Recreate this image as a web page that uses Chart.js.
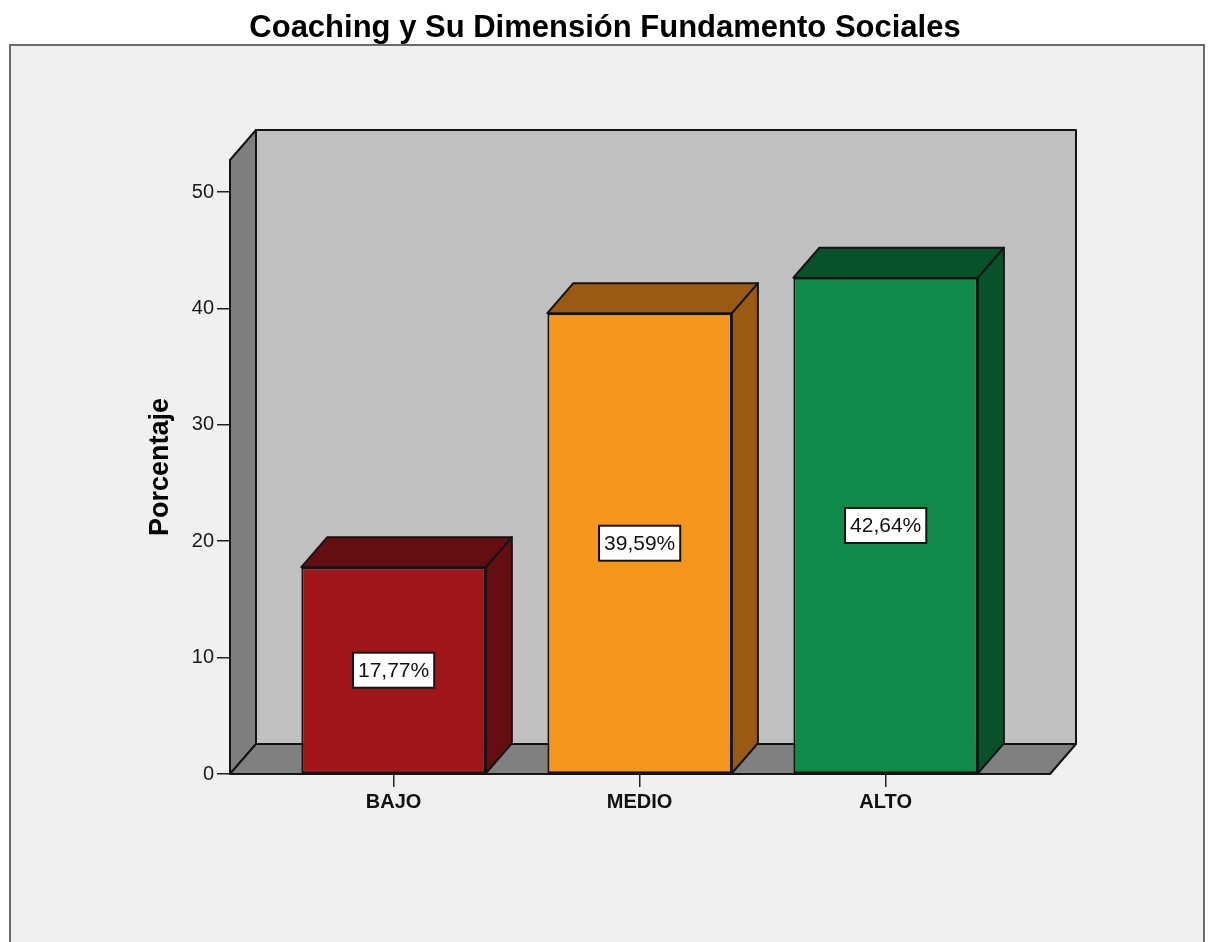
<!DOCTYPE html>
<html>
<head>
<meta charset="utf-8">
<script src="https://cdn.jsdelivr.net/npm/chart.js@4.4.1/dist/chart.umd.min.js"></script>
<style>
  body { margin: 0; background: #fff; }
  canvas { display: block; }
</style>
</head>
<body>
<canvas id="grafico" width="1210" height="942"></canvas>
<script>
const categorias = ['BAJO', 'MEDIO', 'ALTO'];
const porcentajes = [17.77, 39.59, 42.64];
const ticksY = [0, 10, 20, 30, 40, 50];
const coloresFrente = ['#a1161a', '#f7961d', '#0f8a48'];
const coloresSombra = ['#650e12', '#9a5a13', '#07522a'];

// profundidad de la caja 3D (px)
const prof = { dx: 26, dy: 30 };
const fuente = "'Liberation Sans', Arial, sans-serif";

function poligono(ctx, pts, relleno) {
  ctx.beginPath();
  ctx.moveTo(pts[0][0], pts[0][1]);
  for (let i = 1; i < pts.length; i++) ctx.lineTo(pts[i][0], pts[i][1]);
  ctx.closePath();
  ctx.fillStyle = relleno;
  ctx.fill();
  ctx.lineWidth = 2;
  ctx.strokeStyle = '#141414';
  ctx.lineJoin = 'round';
  ctx.stroke();
}

const caja3d = {
  id: 'caja3d',
  beforeDraw(chart) {
    const ctx = chart.ctx;
    ctx.save();
    ctx.fillStyle = '#fff';
    ctx.fillRect(0, 0, chart.width, chart.height);
    ctx.fillStyle = '#f0f0f0';
    ctx.fillRect(10, 45, 1194, 920);
    ctx.strokeStyle = '#6b6b6b';
    ctx.lineWidth = 2;
    ctx.strokeRect(10, 45, 1194, 920);
    ctx.restore();
  },
  beforeDatasetsDraw(chart) {
    const { ctx, chartArea: a } = chart;
    const { dx, dy } = prof;
    ctx.save();
    // pared del fondo, pared lateral y piso
    poligono(ctx, [[a.left + dx, a.top - dy], [a.right + dx, a.top - dy], [a.right + dx, a.bottom - dy], [a.left + dx, a.bottom - dy]], '#c0c0c0');
    poligono(ctx, [[a.left, a.top], [a.left + dx, a.top - dy], [a.left + dx, a.bottom - dy], [a.left, a.bottom]], '#7f7f7f');
    poligono(ctx, [[a.left, a.bottom], [a.right, a.bottom], [a.right + dx, a.bottom - dy], [a.left + dx, a.bottom - dy]], '#808080');
    // caras lateral y superior de cada barra
    chart.getDatasetMeta(0).data.forEach((barra, i) => {
      const { x, y, base, width } = barra.getProps(['x', 'y', 'base', 'width'], true);
      const l = x - width / 2, r = x + width / 2;
      poligono(ctx, [[r, y], [r + dx, y - dy], [r + dx, base - dy], [r, base]], coloresSombra[i]);
      poligono(ctx, [[l, y], [l + dx, y - dy], [r + dx, y - dy], [r, y]], coloresSombra[i]);
    });
    ctx.restore();
  },
  afterDatasetsDraw(chart) {
    const ctx = chart.ctx;
    ctx.save();
    ctx.font = '21px ' + fuente;
    ctx.textAlign = 'center';
    ctx.textBaseline = 'middle';
    chart.getDatasetMeta(0).data.forEach((barra, i) => {
      const { x, y, base } = barra.getProps(['x', 'y', 'base'], true);
      const texto = porcentajes[i].toFixed(2).replace('.', ',') + '%';
      const w = ctx.measureText(texto).width + 10;
      const h = 35;
      const cy = (y + base) / 2;
      ctx.fillStyle = '#fff';
      ctx.fillRect(x - w / 2, cy - h / 2, w, h);
      ctx.lineWidth = 2;
      ctx.strokeStyle = '#141414';
      ctx.strokeRect(x - w / 2, cy - h / 2, w, h);
      ctx.fillStyle = '#111';
      ctx.fillText(texto, x, cy + 1);
    });
    ctx.restore();
  }
};

Chart.defaults.color = '#111';
Chart.defaults.font.family = fuente;

new Chart(document.getElementById('grafico').getContext('2d'), {
  type: 'bar',
  data: {
    datasets: [{
      data: categorias.map((c, i) => ({ x: i, y: porcentajes[i] })),
      backgroundColor: coloresFrente,
      borderColor: '#141414',
      borderWidth: 2,
      borderSkipped: false,
      barPercentage: 0.75,
      categoryPercentage: 1
    }]
  },
  options: {
    responsive: false,
    animation: false,
    layout: { padding: 0 },
    plugins: {
      legend: { display: false },
      tooltip: { enabled: false },
      title: {
        display: true,
        text: 'Coaching y Su Dimensión Fundamento Sociales',
        color: '#000',
        font: { size: 31, weight: 'bold' },
        padding: { top: 10, bottom: 112.8 }
      }
    },
    scales: {
      x: {
        type: 'linear',
        offset: false,
        min: -0.665,
        max: 2.668,
        afterBuildTicks: s => { s.ticks = categorias.map((c, i) => ({ value: i })); },
        afterFit: s => { s.height = 168; },
        grid: { offset: false, drawOnChartArea: false, tickLength: 13, color: '#222', lineWidth: 1.5 },
        border: { display: false },
        ticks: {
          callback: v => categorias[v],
          font: { size: 20, weight: 'bold' },
          color: '#111',
          padding: 3,
          maxRotation: 0
        }
      },
      y: {
        min: 0,
        max: 52.75,
        afterBuildTicks: s => { s.ticks = ticksY.map(v => ({ value: v })); },
        afterFit: s => { s.width = 230; },
        grid: { drawOnChartArea: false, tickLength: 13, color: '#222', lineWidth: 1.5 },
        border: { display: false },
        ticks: { font: { size: 20 }, color: '#1a1a1a', padding: 3 },
        title: {
          display: true,
          text: 'Porcentaje',
          color: '#000',
          font: { size: 27, weight: 'bold' },
          padding: { top: 144, bottom: 0 }
        }
      },
      yDer: {
        position: 'right',
        display: true,
        afterFit: s => { s.width = 160; },
        grid: { display: false },
        border: { display: false },
        ticks: { display: false }
      }
    }
  },
  plugins: [caja3d]
});
</script>
</body>
</html>
